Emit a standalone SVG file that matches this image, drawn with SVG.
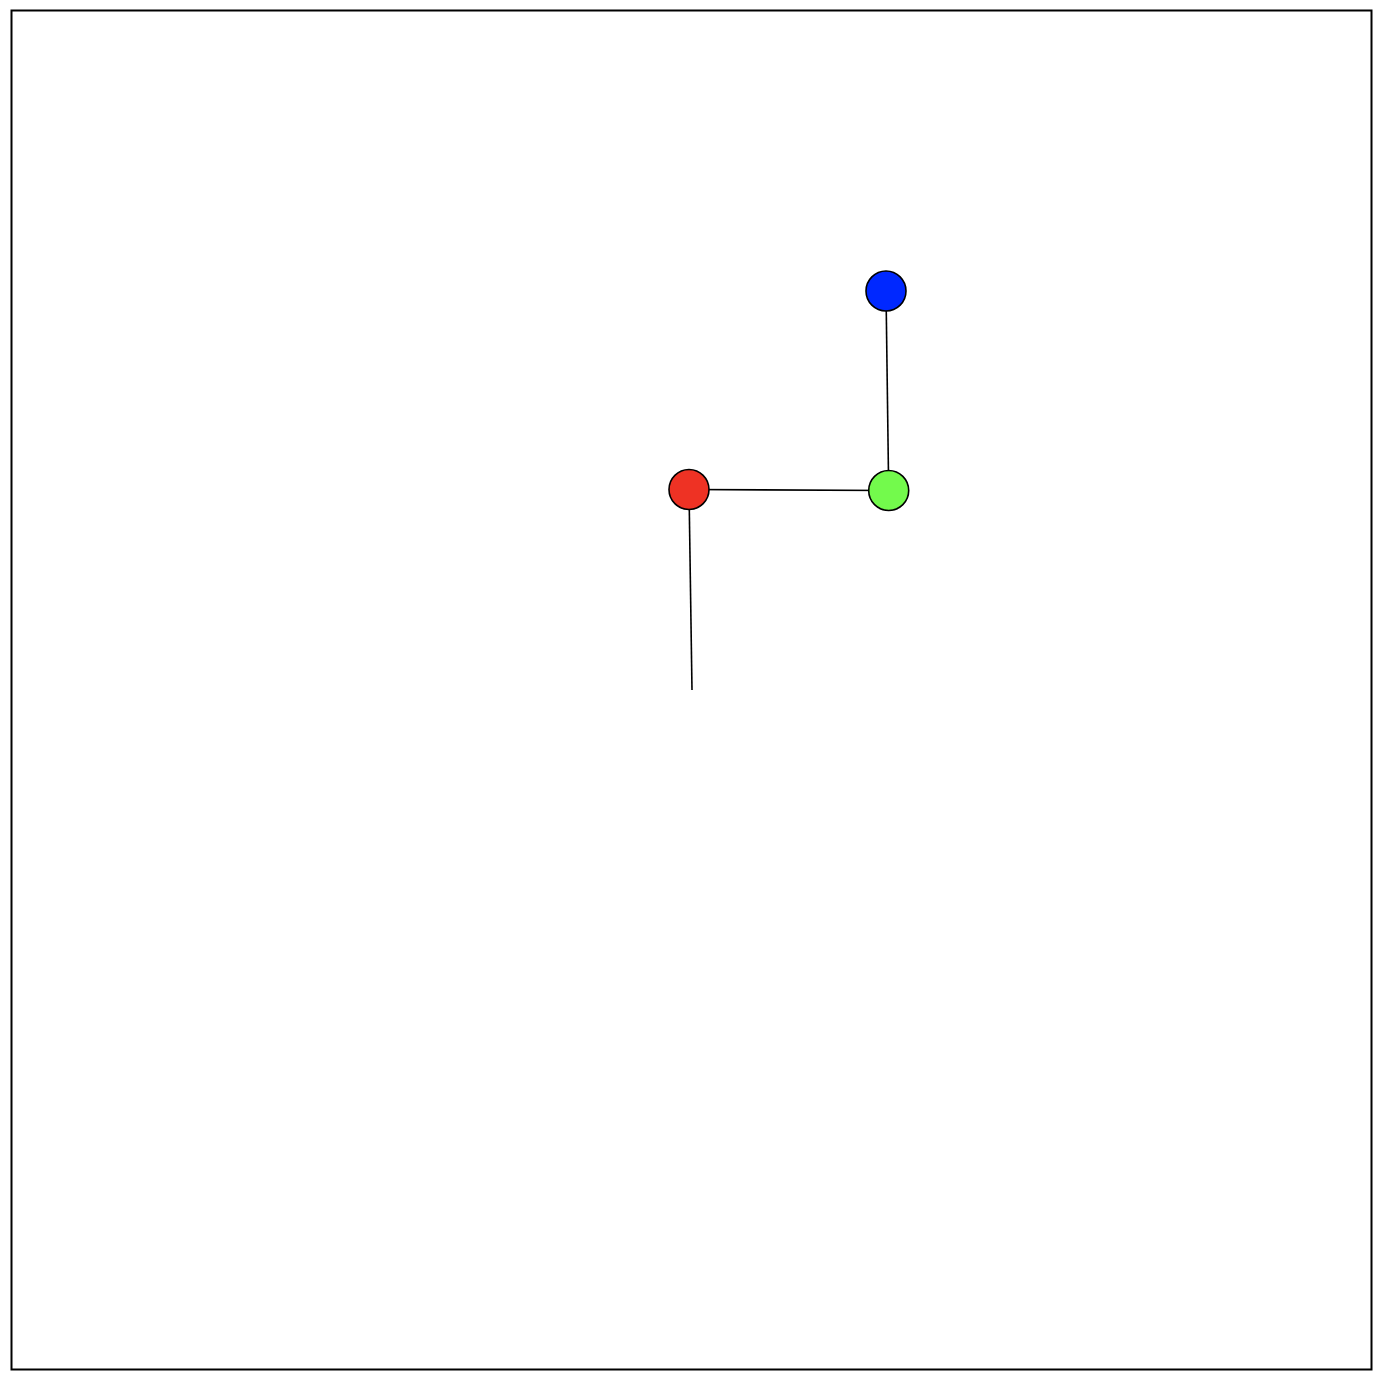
<svg xmlns="http://www.w3.org/2000/svg" width="1384" height="1382" viewBox="0 0 1384 1382">
<style>
.frame{fill:#fff;stroke:#000;stroke-width:2}
.edge{stroke:#000;stroke-width:1.6;fill:none}
.node{stroke:#000;stroke-width:1.6}
</style>
<rect class="frame" x="11.5" y="10.5" width="1360" height="1359"/>
<g id="connectors">
<line class="edge" x1="886" y1="291" x2="888.7" y2="490.5"/>
<line class="edge" x1="689" y1="489.5" x2="888.7" y2="490.5"/>
<line class="edge" x1="689" y1="489.5" x2="692" y2="690"/>
</g>
<g id="node-blue"><circle class="node" cx="886" cy="291" r="20" fill="#0028ff"/></g>
<g id="node-red"><circle class="node" cx="689" cy="489.5" r="20" fill="#ee3224"/></g>
<g id="node-green"><circle class="node" cx="888.7" cy="490.5" r="20" fill="#73fa4c"/></g>
</svg>
